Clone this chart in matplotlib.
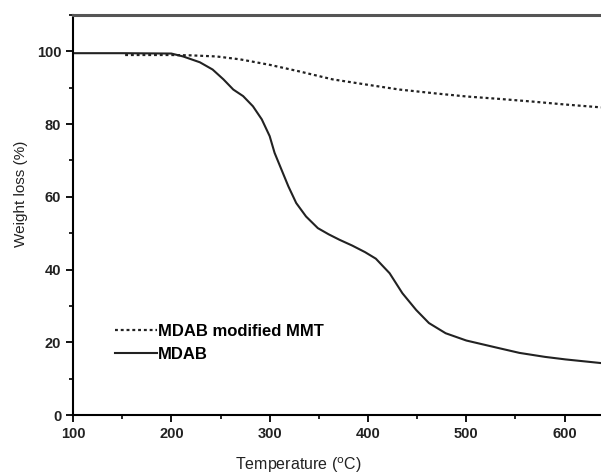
import matplotlib.pyplot as plt
from matplotlib.ticker import MultipleLocator

plt.rcParams['font.family'] = ['Liberation Sans', 'DejaVu Sans']

# MDAB (solid)
t_mdab = [100, 150, 200, 212, 229, 242, 253, 263, 273, 283, 292, 300, 305, 312, 319,
          327, 337, 349, 360, 371, 384, 397, 408, 422, 435, 449, 462, 479, 500, 530, 554,
          580, 601, 637]
w_mdab = [99.5, 99.5, 99.4, 98.6, 97.0, 95.0, 92.3, 89.5, 87.7, 84.9, 81.3, 76.7, 72.1,
          67.5, 62.9, 58.3, 54.6, 51.4, 49.7, 48.2, 46.6, 44.8, 43.0, 39.0, 33.5, 28.9,
          25.3, 22.5, 20.5, 18.6, 17.1, 16.0, 15.3, 14.3]

# MDAB modified MMT (dotted)
t_mmt = [153, 180, 200, 220, 246, 270, 300, 330, 364, 400, 432, 470, 500, 535, 567, 600, 637]
w_mmt = [99.0, 99.0, 99.0, 98.9, 98.6, 97.8, 96.3, 94.5, 92.3, 90.8, 89.5, 88.4, 87.6,
         86.9, 86.2, 85.4, 84.6]

fig = plt.figure(figsize=(6.01, 4.76), dpi=100)
ax = fig.add_axes([0.1215, 0.128, 0.8785, 0.8405])

ax.plot(t_mmt, w_mmt, color='#222222', lw=1.6, linestyle=(0, (1.3, 1.3)),
        label='MDAB modified MMT')
ax.plot(t_mdab, w_mdab, color='#222222', lw=1.5, label='MDAB')

ax.set_xlim(100, 637)
ax.set_ylim(0, 110)
ax.xaxis.set_major_locator(MultipleLocator(100))
ax.xaxis.set_minor_locator(MultipleLocator(50))
ax.yaxis.set_minor_locator(MultipleLocator(10))
ax.set_yticks([0, 20, 40, 60, 80, 100])

ax.tick_params(which='major', direction='out', length=5, width=1.3, labelsize=10.5)
ax.tick_params(which='minor', direction='out', length=3, width=1.2)
for lab in ax.get_xticklabels() + ax.get_yticklabels():
    lab.set_fontweight('bold')
    lab.set_color('#222222')

ax.spines['right'].set_visible(False)
ax.spines['top'].set_color('#555555')
ax.spines['top'].set_linewidth(2.2)
ax.spines['left'].set_linewidth(1.5)
ax.spines['bottom'].set_linewidth(1.5)

# axis titles placed where the reference has them
fig.text(298 / 601, 1 - 465 / 476, 'Temperature ($^{\\mathrm{o}}$C)', fontsize=11.5,
         ha='center', va='center', color='#222222')
fig.text(21 / 601, 1 - 194 / 476, 'Weight loss (%)', fontsize=11, rotation=90,
         ha='center', va='center', color='#222222')

leg = ax.legend(loc='upper left', bbox_to_anchor=(0.0795, 0.227), frameon=False,
                borderpad=0, borderaxespad=0,
                handlelength=2.5, handletextpad=0.1, labelspacing=0.45,
                prop={'weight': 'bold', 'size': 12})

fig.savefig('out.png', dpi=100)
